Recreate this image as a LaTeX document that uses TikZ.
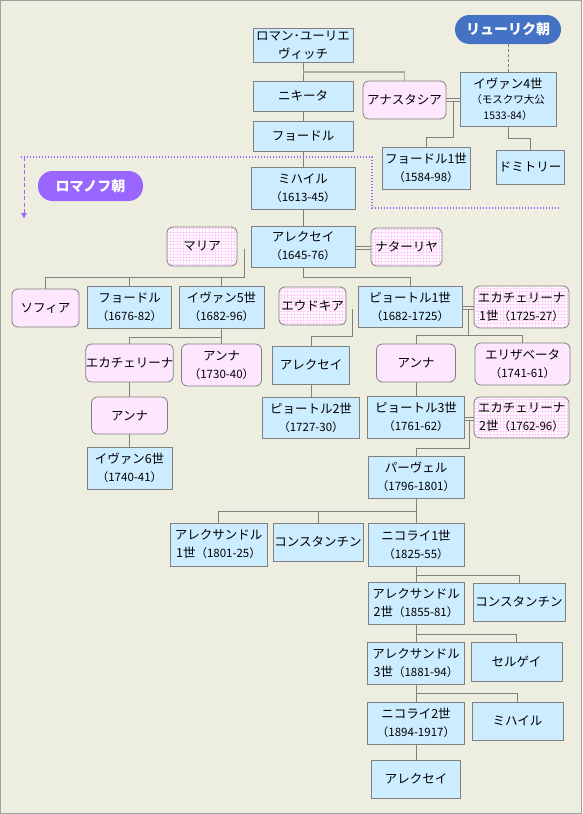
\documentclass[tikz,border=0pt]{standalone}
\usepackage{fontspec}
\newfontfamily\jp{Noto Sans CJK JP}
\usetikzlibrary{arrows.meta,backgrounds}
\definecolor{bgc}{RGB}{237,237,224}
\definecolor{boxblue}{RGB}{204,236,255}
\definecolor{boxpink}{RGB}{255,230,255}
\definecolor{gridpink}{RGB}{255,212,250}
\definecolor{lineg}{RGB}{128,128,128}
\definecolor{lineh}{RGB}{172,172,162}
\definecolor{framec}{RGB}{160,160,160}
\definecolor{riurikc}{RGB}{68,114,196}
\definecolor{romanovc}{RGB}{153,102,255}
\newcommand{\dt}{\fontsize{11.5}{18}\selectfont}
\newcommand{\dts}{\fontsize{10.5}{15}\selectfont}
\begin{document}
\begin{tikzpicture}[x=1pt,y=-1pt,
  base/.style={draw=lineg, line width=0.8pt, inner sep=0pt, align=center,
    font=\jp\fontsize{12.5}{18}\selectfont, text=black},
  rb/.style={base, fill=boxblue},
  pk/.style={base, fill=boxpink, rounded corners=6pt},
  wf/.style={base, fill=white, rounded corners=6pt,
    path picture={\draw[gridpink, line width=0.45pt]
      (path picture bounding box.south west) grid[step=3.2pt]
      (path picture bounding box.north east);}},
  badge/.style={inner sep=0pt, rounded corners=14.5pt, text=white,
    font=\jp\bfseries\fontsize{14}{16}\selectfont},
  conn/.style={draw=lineg, line width=0.8pt},
  marr/.style={draw=lineg, line width=0.6pt, double=bgc, double distance=2.2pt},
  dyn/.style={draw=romanovc, line width=1.4pt, dash pattern=on 1.4pt off 1.6pt},
  dynarrow/.style={draw=romanovc, line width=0.9pt, dash pattern=on 4pt off 2.5pt,
    -{Latex[length=6pt,width=6pt]}},
  rdash/.style={draw=lineg, line width=0.7pt, dash pattern=on 3pt off 2pt}
]
\begin{scope}[on background layer]
  \fill[bgc] (0,0) rectangle (582,814);
\end{scope}
\useasboundingbox (0,0) rectangle (582,814);

% ---- badges
\node[badge, fill=riurikc, minimum width=106, minimum height=29] (riurik) at (508,29.5) {リューリク朝};
\node[badge, fill=romanovc, minimum width=105, minimum height=30] (romanov) at (90.5,186) {ロマノフ朝};

% ---- top generations
\node[rb, minimum width=100, minimum height=34] (roman) at (303,45) {ロマン･ユーリエ\\ヴィッチ};
\node[rb, minimum width=100, minimum height=30] (nikita) at (303,96) {ニキータ};
\node[rb, minimum width=100, minimum height=30] (fyodorA) at (303,136) {フョードル};
\node[rb, minimum width=104, minimum height=42] (mikhail) at (303,188) {ミハイル\\{\dt （1613-45）}};
\node[pk, minimum width=83, minimum height=38] (anastasia) at (404.5,100) {アナスタシア};
\node[rb, minimum width=96, minimum height=54, font=\jp\fontsize{12.5}{15.5}\selectfont] (ivan4) at (508,99) {イヴァン4世\\{\dts （モスクワ大公}\\{\dts 1533-84）}};
\node[rb, minimum width=88, minimum height=42] (fyodor1) at (426,168) {フョードル1世\\{\dt （1584-98）}};
\node[rb, minimum width=68, minimum height=34] (dmitry) at (530,167) {ドミトリー};

% ---- Alexei generation
\node[rb, minimum width=104, minimum height=41] (alexei) at (303,246.5) {アレクセイ\\{\dt （1645-76）}};
\node[wf, minimum width=70, minimum height=39] (maria) at (202,246.5) {マリア};
\node[wf, minimum width=71, minimum height=38] (natalya) at (406.5,247) {ナターリヤ};

\node[pk, minimum width=67, minimum height=38] (sofia) at (45.5,308) {ソフィア};
\node[rb, minimum width=84, minimum height=42] (fyodorB) at (129.5,307) {フョードル\\{\dt （1676-82）}};
\node[rb, minimum width=85, minimum height=42] (ivan5) at (221.5,307) {イヴァン5世\\{\dt （1682-96）}};
\node[wf, minimum width=67, minimum height=38] (eudokia) at (312.5,306) {エウドキア};
\node[rb, minimum width=104, minimum height=41] (peter1) at (410,306.5) {ピョートル1世\\{\dt （1682-1725）}};
\node[wf, minimum width=95, minimum height=42] (ekat1) at (521.5,307) {エカチェリーナ\\1世{\dt （1725-27）}};

\node[pk, minimum width=84, minimum height=38] (ekatA) at (129.5,363) {エカチェリーナ};
\node[pk, minimum width=80, minimum height=42] (annaA) at (221.5,365) {アンナ\\{\dt （1730-40）}};
\node[rb, minimum width=77, minimum height=38] (alexeiB) at (311,365) {アレクセイ};
\node[pk, minimum width=79, minimum height=38] (annaB) at (416,363) {アンナ};
\node[pk, minimum width=95, minimum height=42] (elizaveta) at (522.5,364) {エリザベータ\\{\dt （1741-61）}};

\node[pk, minimum width=76, minimum height=37] (annaC) at (129.5,415.5) {アンナ};
\node[rb, minimum width=97, minimum height=41] (peter2) at (311,417.5) {ピョートル2世\\{\dt （1727-30）}};
\node[rb, minimum width=97, minimum height=42] (peter3) at (416,417) {ピョートル3世\\{\dt （1761-62）}};
\node[wf, minimum width=95, minimum height=41] (ekat2) at (521.5,417.5) {エカチェリーナ\\2世{\dt （1762-96）}};

\node[rb, minimum width=85, minimum height=42] (ivan6) at (129.5,468) {イヴァン6世\\{\dt （1740-41）}};
\node[rb, minimum width=96, minimum height=42] (pavel) at (416,477) {パーヴェル\\{\dt （1796-1801）}};

\node[rb, minimum width=97, minimum height=43] (alex1) at (218.5,544.5) {アレクサンドル\\1世{\dt （1801-25）}};
\node[rb, minimum width=90, minimum height=38] (konst1) at (318,542) {コンスタンチン};
\node[rb, minimum width=96, minimum height=43] (nich1) at (416,544.5) {ニコライ1世\\{\dt （1825-55）}};
\node[rb, minimum width=96, minimum height=42] (alex2) at (416,603) {アレクサンドル\\2世{\dt （1855-81）}};
\node[rb, minimum width=92, minimum height=38] (konst2) at (519,602) {コンスタンチン};
\node[rb, minimum width=97, minimum height=42] (alex3) at (416,663) {アレクサンドル\\3世{\dt （1881-94）}};
\node[rb, minimum width=91, minimum height=39] (sergei) at (516.5,661.5) {セルゲイ};
\node[rb, minimum width=97, minimum height=42] (nich2) at (416,723) {ニコライ2世\\{\dt （1894-1917）}};
\node[rb, minimum width=91, minimum height=38] (mikhailB) at (517.5,721) {ミハイル};
\node[rb, minimum width=89, minimum height=38] (alexeiC) at (416,779) {アレクセイ};

% ---- junction coordinates
\coordinate (jR) at (303,72);
\coordinate (mA) at (453,100);
\coordinate (mAb) at (453,137);
\coordinate (mM) at (244,247.5);
\coordinate (mMb) at (244,277);
\coordinate (mE) at (352,307.5);
\coordinate (mEb) at (352,336);
\coordinate (mK) at (468,308);
\coordinate (mKb) at (468,335);
\coordinate (mK2) at (469,419);
\coordinate (mK2b) at (469,448);
\coordinate (d1) at (21,157);
\coordinate (d0) at (24,157);
\coordinate (d2) at (372,157);
\coordinate (d3) at (372,208);
\coordinate (d4) at (560,208);
\coordinate (d5) at (24,219);

\begin{scope}[on background layer]
  % top
  \draw[conn] (roman) -- (nikita);
  \draw[lineh, line width=1.5pt] (jR) -| (anastasia.north);
  \draw[conn] (nikita) -- (fyodorA);
  \draw[conn] (fyodorA) -- (mikhail);
  \draw[conn] (mikhail) -- (alexei);
  \draw[rdash] (riurik.south) -- (ivan4.north);
  \draw[conn] (mA) -- (mAb) -| (fyodor1.north);
  \draw[conn] (ivan4.south) -- ++(0,12) -| (dmitry.north);
  \draw[marr] (anastasia.east) -- (ivan4.west |- anastasia.east);
  % Alexei
  \draw[conn] (mM) -- (mMb) -| (sofia.north);
  \draw[conn] (mMb) -| (fyodorB.north);
  \draw[conn] (mMb) -| (ivan5.north);
  \draw[marr] (maria.east |- mM) -- (alexei.west |- mM);
  \draw[marr] (alexei.east |- 0,248) -- (natalya.west |- 0,248);
  \draw[conn] (alexei.south) -- ++(0,10) -| (peter1.north);
  % Ivan5 line
  \draw[conn] (ivan5.south) -- (annaA.north);
  \draw[conn] (ivan5.south |- 0,337) -| (ekatA.north);
  \draw[conn] (ekatA) -- (annaC);
  \draw[conn] (annaC) -- (ivan6);
  % Peter1
  \draw[conn] (mE) -- (mEb) -| (alexeiB.north);
  \draw[marr] (eudokia.east |- mE) -- (peter1.west |- mE);
  \draw[conn] (mK) -- (mKb) -| (annaB.north);
  \draw[conn] (mKb) -| (elizaveta.north);
  \draw[marr] (peter1.east |- mK) -- (ekat1.west |- mK);
  \draw[conn] (alexeiB) -- (peter2);
  \draw[conn] (annaB) -- (peter3);
  \draw[conn] (mK2) -- (mK2b) -| (pavel.north);
  \draw[marr] (peter3.east |- mK2) -- (ekat2.west |- mK2);
  % Pavel and later
  \draw[conn] (pavel.south) -- ++(0,13) -| (alex1.north);
  \draw[conn] (pavel.south |- 0,511) -| (konst1.north);
  \draw[conn] (pavel) -- (nich1);
  \draw[conn] (nich1.south) -- ++(0,9) -| (konst2.north);
  \draw[conn] (nich1) -- (alex2);
  \draw[conn] (alex2.south) -- ++(0,10) -| (sergei.north);
  \draw[conn] (alex2) -- (alex3);
  \draw[conn] (alex3.south) -- ++(0,9) -| (mikhailB.north);
  \draw[conn] (alex3) -- (nich2);
  \draw[conn] (nich2) -- (alexeiC);
  % dynasty boundary
  \draw[dyn] (d1) -- (d2) -- (d3) -- (d4);
  \draw[dynarrow] (d0) -- (d5);
\end{scope}

\draw[framec, line width=1.2pt] (0.6,0.6) rectangle (581.4,813.4);
\end{tikzpicture}
\end{document}
